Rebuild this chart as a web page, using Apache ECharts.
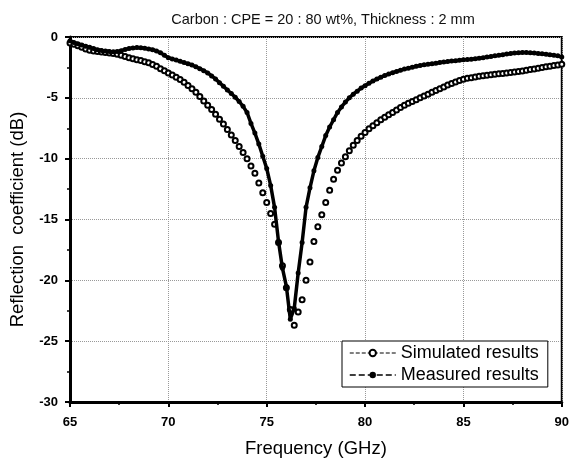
<!DOCTYPE html>
<html>
<head>
<meta charset="utf-8">
<script src="https://cdn.jsdelivr.net/npm/echarts@6/dist/echarts.min.js"></script>
<style>html,body{margin:0;padding:0;background:#fff}#c{width:572px;height:463px}</style>
</head>
<body>
<div id="c"></div>
<script>
const titleText = 'Carbon : CPE = 20 : 80 wt%, Thickness : 2 mm';
const xName = 'Frequency (GHz)';
const yName = 'Reflection  coefficient (dB)';
const seriesNames = ['Simulated results', 'Measured results'];

const freq = [
65.0,65.2,65.4,65.6,65.8,66.0,66.2,66.4,66.6,66.8,
67.0,67.2,67.4,67.6,67.8,68.0,68.2,68.4,68.6,68.8,
69.0,69.2,69.4,69.6,69.8,70.0,70.2,70.4,70.6,70.8,
71.0,71.2,71.4,71.6,71.8,72.0,72.2,72.4,72.6,72.8,
73.0,73.2,73.4,73.6,73.8,74.0,74.2,74.4,74.6,74.8,
75.0,75.2,75.4,75.6,75.8,76.0,76.2,76.4,76.6,76.8,
77.0,77.2,77.4,77.6,77.8,78.0,78.2,78.4,78.6,78.8,
79.0,79.2,79.4,79.6,79.8,80.0,80.2,80.4,80.6,80.8,
81.0,81.2,81.4,81.6,81.8,82.0,82.2,82.4,82.6,82.8,
83.0,83.2,83.4,83.6,83.8,84.0,84.2,84.4,84.6,84.8,
85.0,85.2,85.4,85.6,85.8,86.0,86.2,86.4,86.6,86.8,
87.0,87.2,87.4,87.6,87.8,88.0,88.2,88.4,88.6,88.8,
89.0,89.2,89.4,89.6,89.8,90.0
];

const simulated = [
-0.5,-0.6,-0.72,-0.85,-0.98,-1.08,-1.15,-1.2,-1.24,-1.28,
-1.32,-1.36,-1.42,-1.5,-1.6,-1.7,-1.78,-1.86,-1.94,-2.03,
-2.12,-2.25,-2.4,-2.6,-2.78,-2.95,-3.12,-3.3,-3.5,-3.72,
-3.98,-4.25,-4.55,-4.9,-5.25,-5.6,-5.95,-6.35,-6.75,-7.15,
-7.6,-8.05,-8.5,-9.0,-9.5,-10.0,-10.6,-11.2,-12.0,-12.8,
-13.6,-14.5,-15.4,-16.9,-18.8,-20.6,-22.4,-23.7,-22.6,-21.6,
-20.0,-18.5,-16.8,-15.6,-14.6,-13.6,-12.6,-11.7,-10.95,-10.35,
-9.85,-9.35,-8.9,-8.5,-8.15,-7.85,-7.55,-7.3,-7.05,-6.8,
-6.6,-6.4,-6.2,-6.0,-5.8,-5.6,-5.45,-5.3,-5.15,-5.0,
-4.85,-4.7,-4.55,-4.4,-4.25,-4.1,-3.95,-3.82,-3.7,-3.58,
-3.48,-3.4,-3.34,-3.28,-3.23,-3.19,-3.15,-3.11,-3.07,-3.03,
-2.99,-2.95,-2.91,-2.87,-2.83,-2.79,-2.74,-2.68,-2.62,-2.56,
-2.5,-2.45,-2.4,-2.35,-2.3,-2.24
];

const measured = [
-0.3,-0.45,-0.55,-0.65,-0.75,-0.85,-0.95,-1.05,-1.1,-1.15,
-1.2,-1.22,-1.2,-1.12,-1.02,-0.95,-0.9,-0.87,-0.88,-0.92,
-0.98,-1.05,-1.15,-1.3,-1.5,-1.7,-1.8,-1.9,-2.0,-2.1,
-2.2,-2.3,-2.45,-2.6,-2.78,-2.95,-3.2,-3.45,-3.75,-4.05,
-4.35,-4.65,-4.95,-5.3,-5.7,-6.2,-7.1,-7.9,-8.8,-9.8,
-10.8,-12.2,-14.0,-16.8,-19.0,-20.5,-23.2,-22.3,-19.4,-16.9,
-14.0,-12.4,-11.0,-9.9,-9.0,-8.1,-7.4,-6.8,-6.2,-5.75,
-5.35,-5.0,-4.7,-4.45,-4.2,-4.0,-3.8,-3.62,-3.46,-3.3,
-3.17,-3.05,-2.93,-2.83,-2.73,-2.64,-2.56,-2.48,-2.41,-2.35,
-2.29,-2.24,-2.19,-2.15,-2.1,-2.06,-2.02,-1.98,-1.95,-1.92,
-1.88,-1.85,-1.82,-1.78,-1.74,-1.7,-1.65,-1.6,-1.55,-1.5,
-1.45,-1.4,-1.36,-1.32,-1.3,-1.28,-1.28,-1.3,-1.32,-1.35,
-1.38,-1.42,-1.46,-1.5,-1.55,-1.65
];

const xMin = 65, xMax = 90, xStep = 5;
const yMin = -30, yMax = 0, yStep = 5;

const font = 'Liberation Sans, Arial, sans-serif';
const chart = echarts.init(document.getElementById('c'), null, {renderer: 'canvas'});

const toPairs = (xs, ys) => xs.map((x, i) => [x, ys[i]]);

chart.setOption({
  animation: false,
  backgroundColor: '#fff',
  title: {
    text: titleText,
    left: 318, top: 7, textAlign: 'center',
    textStyle: {fontFamily: font, fontSize: 14.5, fontWeight: 'normal', color: '#111'}
  },
  grid: {left: 68, right: 7, top: 37, bottom: 61, show: true, borderColor: '#000', borderWidth: 2},
  xAxis: {
    type: 'value', min: xMin, max: xMax, interval: xStep,
    name: xName, nameLocation: 'middle', nameGap: 37,
    nameTextStyle: {fontFamily: font, fontSize: 18.5, color: '#000'},
    axisLine: {show: true, onZero: false, lineStyle: {color: '#000', width: 3}},
    axisTick: {show: true, length: 5, lineStyle: {color: '#000', width: 2}},
    minorTick: {show: true, splitNumber: 2, length: 3, lineStyle: {color: '#000', width: 1.5}},
    axisLabel: {fontFamily: font, fontSize: 13, fontWeight: 'bold', color: '#000', margin: 14},
    splitLine: {show: true, lineStyle: {color: '#999', type: 'dotted', width: 1}}
  },
  yAxis: {
    type: 'value', min: yMin, max: yMax, interval: yStep,
    name: yName, nameLocation: 'middle', nameGap: 43,
    nameTextStyle: {fontFamily: font, fontSize: 18.5, color: '#000'},
    axisLine: {show: true, onZero: false, lineStyle: {color: '#000', width: 3}},
    axisTick: {show: true, length: 5, lineStyle: {color: '#000', width: 2}},
    minorTick: {show: true, splitNumber: 2, length: 3, lineStyle: {color: '#000', width: 1.5}},
    axisLabel: {fontFamily: font, fontSize: 13, fontWeight: 'bold', color: '#000', margin: 12},
    splitLine: {show: true, lineStyle: {color: '#999', type: 'dotted', width: 1}}
  },
  legend: {
    orient: 'vertical', left: 342, top: 341,
    backgroundColor: '#fff', borderColor: '#000', borderWidth: 1,
    padding: [3, 9, 3, 7], itemGap: 4, itemWidth: 46, itemHeight: 8,
    textStyle: {fontFamily: font, fontSize: 18, color: '#000'},
    data: [
      {name: seriesNames[0], lineStyle: {width: 1, type: 'dashed', color: '#000', opacity: 1}},
      {name: seriesNames[1], lineStyle: {width: 1.5, type: 'dashed', color: '#000', opacity: 1}}
    ]
  },
  series: [
    {
      name: seriesNames[0], type: 'line', data: toPairs(freq, simulated),
      symbol: 'emptyCircle', symbolSize: 5, showSymbol: true, showAllSymbol: true,
      itemStyle: {color: '#000', borderColor: '#000', borderWidth: 1.2},
      lineStyle: {width: 1, color: '#000', opacity: 0},
      z: 2
    },
    {
      name: seriesNames[1], type: 'line', data: toPairs(freq, measured),
      symbol: 'circle', symbolSize: 5, showSymbol: true, showAllSymbol: true,
      itemStyle: {color: '#000'},
      lineStyle: {width: 3.5, color: '#000'},
      z: 3
    }
  ]
});
</script>
</body>
</html>
